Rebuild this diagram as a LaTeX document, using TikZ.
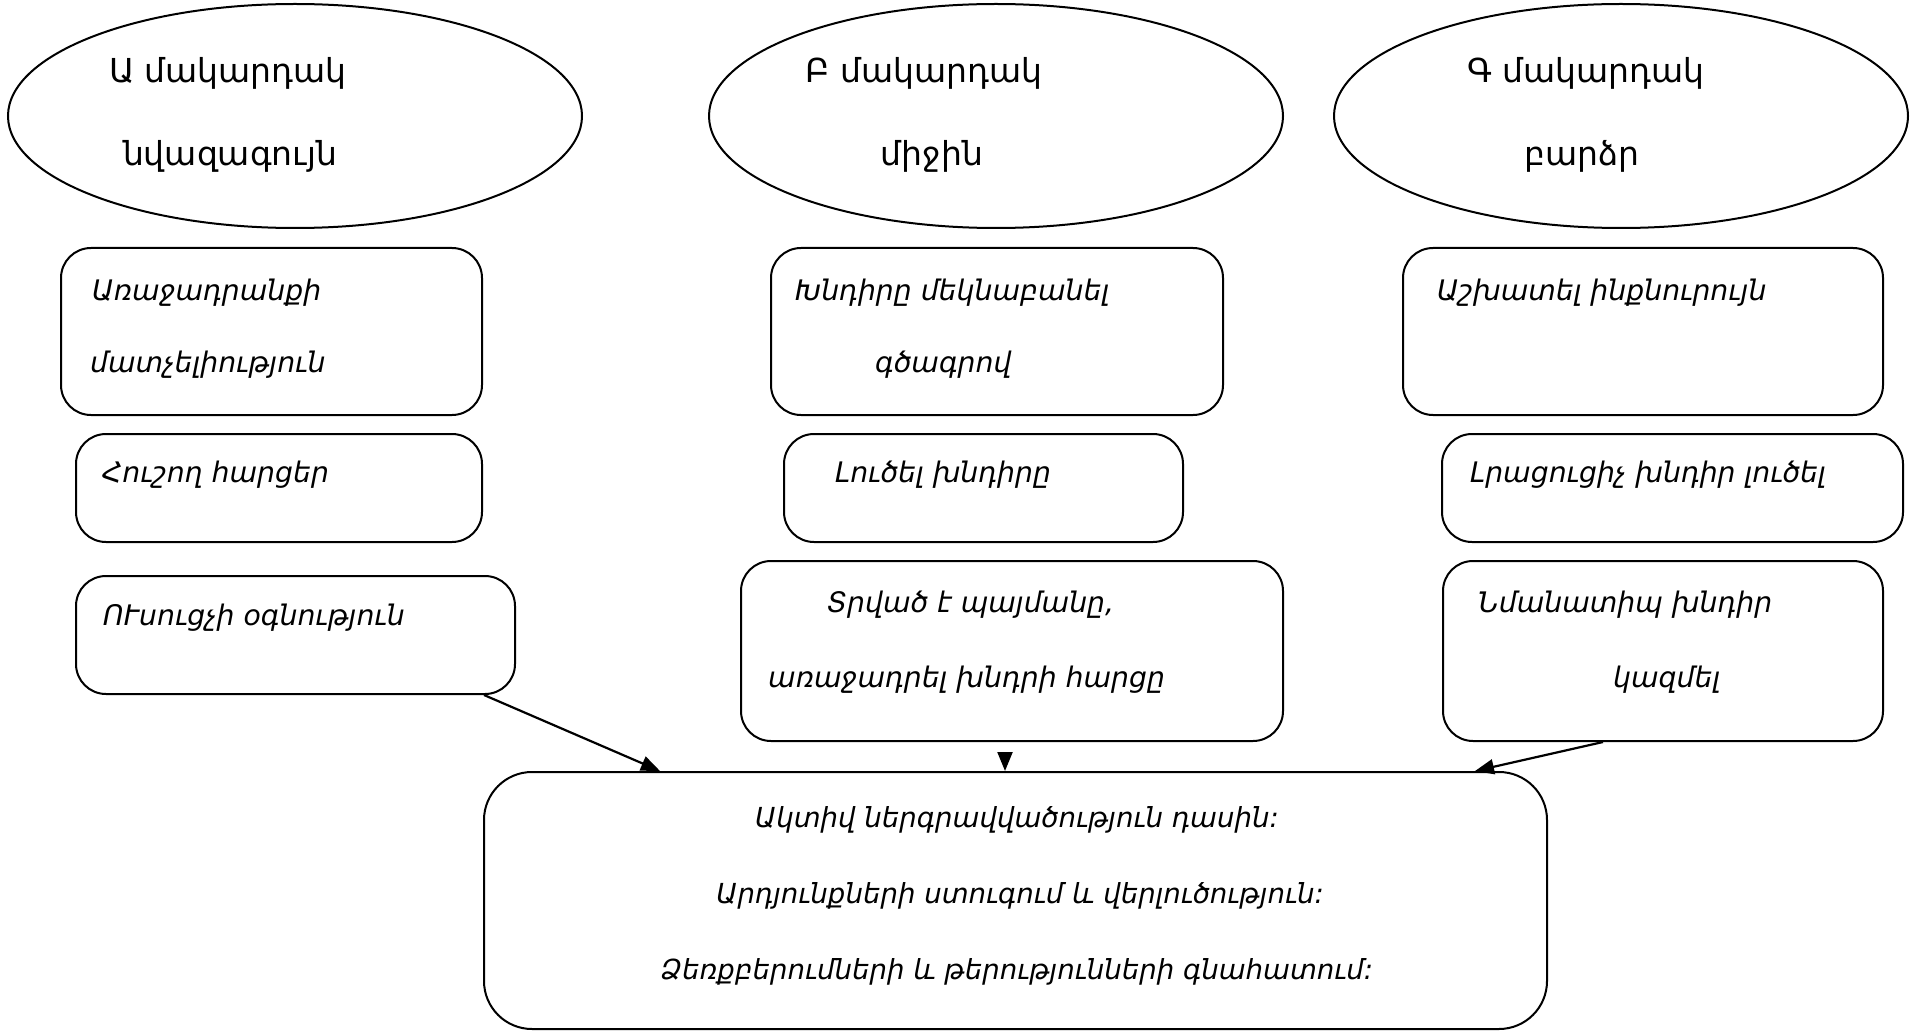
\documentclass[tikz,border=0pt]{standalone}
\usepackage{fontspec}
\setmainfont{DejaVu Sans}
\usetikzlibrary{shapes.geometric,arrows.meta}
\begin{document}
\begin{tikzpicture}[x=1pt,y=-1pt,
  oval/.style={draw, line width=2pt, ellipse, minimum width=574pt, minimum height=224pt, inner sep=0pt},
  rbox/.style={draw, line width=2pt, rounded corners=30pt, inner sep=0pt},
  lvl/.style={font=\fontsize{33}{40}\selectfont, inner sep=0pt, anchor=base},
  itx/.style={font=\fontsize{28.3}{34}\selectfont\itshape, inner sep=0pt, anchor=base west},
  ctx/.style={font=\fontsize{27.6}{33}\selectfont\itshape, inner sep=0pt, anchor=base},
  arr/.style={line width=2.2pt, -{Triangle[length=19pt,width=15pt]}}
]
\useasboundingbox (0,0) rectangle (1910,1032);

% ellipses
\node[oval] (eA) at (295,116) {};
\node[oval] (eB) at (996,116) {};
\node[oval] (eC) at (1621,116) {};
\node[lvl] (tA1) at (228,83) {Ա մակարդակ};
\node[lvl] (tA2) at (230,166) {նվազագույն};
\node[lvl] (tB1) at (924,83) {Բ մակարդակ};
\node[lvl] (tB2) at (932,166) {միջին};
\node[lvl] (tC1) at (1586,83) {Գ մակարդակ};
\node[lvl] (tC2) at (1582,166) {բարձր};

% left column
\node[rbox, minimum width=421pt, minimum height=167pt] (L1) at (271.5,331.5) {};
\node[rbox, minimum width=406pt, minimum height=108pt] (L2) at (279,488) {};
\node[rbox, minimum width=439pt, minimum height=118pt] (L3) at (295.5,635) {};
\node[itx] (tL1a) at (92,300) {Առաջադրանքի};
\node[itx] (tL1b) at (90,372) {մատչելիություն};
\node[itx] (tL2) at (102,482) {Հուշող հարցեր};
\node[itx] (tL3) at (103,625) {ՈՒսուցչի օգնություն};

% middle column
\node[rbox, minimum width=452pt, minimum height=167pt] (M1) at (997,331.5) {};
\node[rbox, minimum width=399pt, minimum height=108pt] (M2) at (983.5,488) {};
\node[rbox, minimum width=542pt, minimum height=180pt] (M3) at (1012,651) {};
\node[itx] (tM1a) at (795,300) {Խնդիրը մեկնաբանել};
\node[itx] (tM1b) at (875,372) {գծագրով};
\node[itx] (tM2) at (835,482) {Լուծել խնդիրը};
\node[itx] (tM3a) at (827,612) {Տրված է պայմանը,};
\node[itx] (tM3b) at (768,687) {առաջադրել խնդրի հարցը};

% right column
\node[rbox, minimum width=480pt, minimum height=167pt] (R1) at (1643,331.5) {};
\node[rbox, minimum width=461pt, minimum height=108pt] (R2) at (1672.5,488) {};
\node[rbox, minimum width=440pt, minimum height=180pt] (R3) at (1663,651) {};
\node[itx] (tR1) at (1437,300) {Աշխատել ինքնուրույն};
\node[itx] (tR2) at (1470,482) {Լրացուցիչ խնդիր լուծել};
\node[itx] (tR3a) at (1478,612) {Նմանատիպ խնդիր};
\node[itx] (tR3b) at (1613,687) {կազմել};

% bottom box
\node[rbox, rounded corners=48pt, minimum width=1063pt, minimum height=257pt] (B) at (1015.5,900.5) {};
\node[ctx] (tB1x) at (1017,827) {Ակտիվ ներգրավվածություն դասին:};
\node[ctx] (tB2x) at (1020,903) {Արդյունքների ստուգում և վերլուծություն:};
\node[ctx] (tB3x) at (1017,979) {Ձեռքբերումների և թերությունների գնահատում:};

% connectors
\coordinate (mstart) at (1005,754);
\draw[arr] ([xshift=188.5pt]L3.south) -- ([xshift=-355.5pt]B.north);
\draw[arr] (mstart) -- ([xshift=-10.5pt]B.north);
\draw[arr] ([xshift=-60pt]R3.south) -- ([xshift=459.5pt]B.north);
\end{tikzpicture}
\end{document}
